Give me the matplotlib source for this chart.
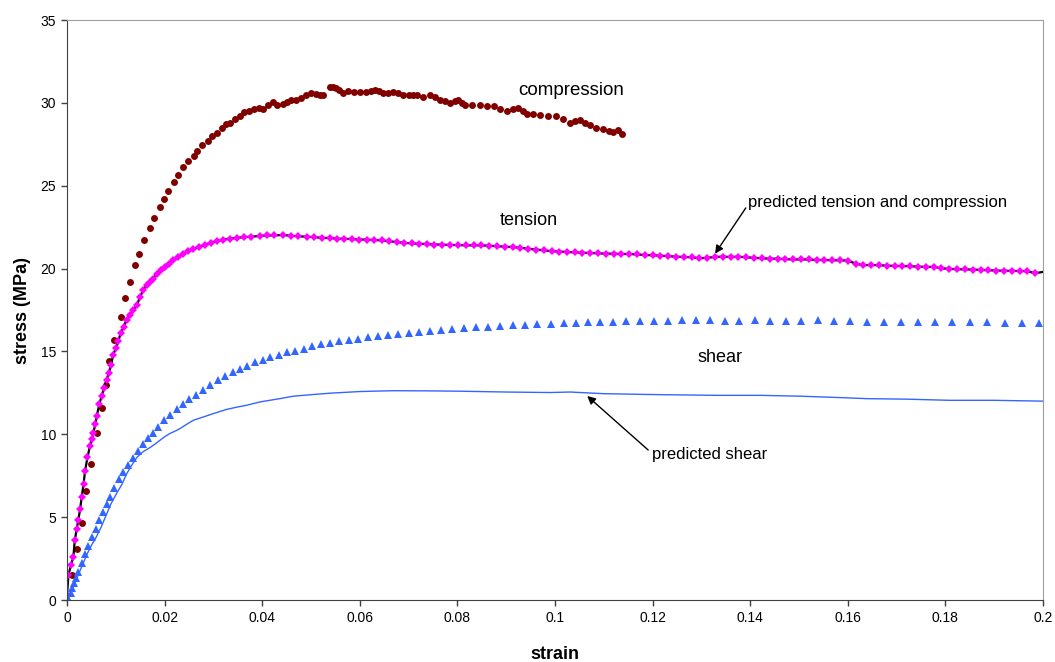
import matplotlib
matplotlib.use("Agg")
import matplotlib.pyplot as plt
from matplotlib.ticker import FuncFormatter

plt.rcParams['font.family'] = ['Liberation Sans', 'DejaVu Sans']

# compression test (dark red dots)
comp_strain = [0.0010, 0.0020, 0.0030, 0.0039, 0.0049, 0.0062, 0.0071, 0.0080, 0.0086, 0.0097,
               0.0110, 0.0119, 0.0129, 0.0139, 0.0148, 0.0158, 0.0170, 0.0178, 0.0190, 0.0199,
               0.0207, 0.0219, 0.0228, 0.0238, 0.0247, 0.0260, 0.0266, 0.0277, 0.0288, 0.0298,
               0.0307, 0.0317, 0.0326, 0.0335, 0.0345, 0.0354, 0.0363, 0.0373, 0.0383, 0.0393,
               0.0402, 0.0412, 0.0422, 0.0431, 0.0442, 0.0451, 0.0460, 0.0470, 0.0480, 0.0490,
               0.0501, 0.0510, 0.0518, 0.0525, 0.0539, 0.0545, 0.0551, 0.0558, 0.0566, 0.0576,
               0.0588, 0.0600, 0.0612, 0.0622, 0.0631, 0.0640, 0.0648, 0.0658, 0.0669, 0.0679,
               0.0689, 0.0700, 0.0710, 0.0717, 0.0730, 0.0744, 0.0754, 0.0764, 0.0775, 0.0785,
               0.0795, 0.0802, 0.0810, 0.0816, 0.0830, 0.0846, 0.0860, 0.0874, 0.0888, 0.0901,
               0.0913, 0.0925, 0.0934, 0.0942, 0.0955, 0.0969, 0.0985, 0.1003, 0.1017, 0.1031,
               0.1041, 0.1051, 0.1062, 0.1072, 0.1085, 0.1099, 0.1110, 0.1119, 0.1130, 0.1137]
comp_stress = [1.5, 3.1, 4.65, 6.6, 8.2, 10.1, 11.6, 12.95, 14.4, 15.7,
               17.05, 18.25, 19.2, 20.2, 20.9, 21.7, 22.45, 23.05, 23.7, 24.2,
               24.7, 25.2, 25.65, 26.1, 26.5, 26.8, 27.1, 27.45, 27.7, 28.0,
               28.2, 28.5, 28.7, 28.8, 29.05, 29.2, 29.45, 29.5, 29.65, 29.7,
               29.6, 29.9, 30.05, 29.85, 29.95, 30.05, 30.15, 30.2, 30.3, 30.45,
               30.6, 30.55, 30.5, 30.5, 30.95, 30.95, 30.9, 30.75, 30.6, 30.7,
               30.65, 30.65, 30.68, 30.72, 30.8, 30.7, 30.6, 30.62, 30.65, 30.58,
               30.5, 30.5, 30.48, 30.45, 30.35, 30.5, 30.35, 30.2, 30.1, 30.0,
               30.1, 30.15, 30.0, 29.9, 29.88, 29.85, 29.82, 29.8, 29.65, 29.5,
               29.6, 29.7, 29.5, 29.35, 29.3, 29.25, 29.22, 29.2, 29.0, 28.8,
               28.9, 28.95, 28.8, 28.65, 28.5, 28.4, 28.3, 28.25, 28.35, 28.1]

# tension test (magenta diamonds)
tens_strain = [0.0000, 0.0003, 0.0008, 0.0013, 0.0016, 0.0020, 0.0023, 0.0027, 0.0030, 0.0034,
               0.0037, 0.0042, 0.0047, 0.0051, 0.0054, 0.0058, 0.0061, 0.0066, 0.0071, 0.0076,
               0.0081, 0.0086, 0.0090, 0.0095, 0.0100, 0.0105, 0.0110, 0.0116, 0.0122, 0.0129,
               0.0136, 0.0143, 0.0150, 0.0156, 0.0163, 0.0170, 0.0177, 0.0184, 0.0192, 0.0200,
               0.0209, 0.0218, 0.0228, 0.0238, 0.0248, 0.0259, 0.0270, 0.0283, 0.0295, 0.0307,
               0.0320, 0.0333, 0.0348, 0.0362, 0.0378, 0.0395, 0.0410, 0.0425, 0.0443, 0.0458,
               0.0474, 0.0491, 0.0506, 0.0522, 0.0538, 0.0553, 0.0568, 0.0584, 0.0599, 0.0614,
               0.0630, 0.0645, 0.0660, 0.0676, 0.0691, 0.0706, 0.0721, 0.0737, 0.0752, 0.0768,
               0.0785, 0.0801, 0.0817, 0.0833, 0.0849, 0.0865, 0.0881, 0.0897, 0.0913, 0.0929,
               0.0945, 0.0961, 0.0977, 0.0993, 0.1008, 0.1024, 0.1040, 0.1056, 0.1072, 0.1088,
               0.1104, 0.1120, 0.1136, 0.1152, 0.1168, 0.1184, 0.1200, 0.1216, 0.1232, 0.1248,
               0.1264, 0.1280, 0.1296, 0.1312, 0.1328, 0.1344, 0.1360, 0.1376, 0.1392, 0.1408,
               0.1424, 0.1440, 0.1456, 0.1472, 0.1488, 0.1504, 0.1520, 0.1536, 0.1552, 0.1568,
               0.1584, 0.1600, 0.1616, 0.1632, 0.1648, 0.1664, 0.1680, 0.1696, 0.1712, 0.1728,
               0.1744, 0.1760, 0.1776, 0.1792, 0.1808, 0.1824, 0.1840, 0.1856, 0.1872, 0.1888,
               0.1904, 0.1920, 0.1936, 0.1952, 0.1968, 0.1984]
tens_stress = [0.3, 1.5, 2.1, 2.6, 3.6, 4.3, 4.8, 5.5, 6.2, 7.0,
               7.8, 8.6, 9.3, 9.7, 10.1, 10.6, 11.1, 11.8, 12.3, 12.8,
               13.3, 13.7, 14.2, 14.8, 15.2, 15.6, 16.1, 16.5, 16.9, 17.2,
               17.5, 17.8, 18.3, 18.7, 19.0, 19.2, 19.4, 19.7, 19.9, 20.1,
               20.3, 20.5, 20.7, 20.9, 21.05, 21.2, 21.3, 21.45, 21.55, 21.65,
               21.75, 21.8, 21.85, 21.9, 21.92, 21.97, 22.0, 22.0, 22.03, 21.98,
               21.95, 21.92, 21.9, 21.85, 21.85, 21.8, 21.8, 21.78, 21.75, 21.75,
               21.72, 21.7, 21.65, 21.6, 21.55, 21.52, 21.5, 21.48, 21.45, 21.45,
               21.42, 21.42, 21.4, 21.4, 21.4, 21.38, 21.35, 21.32, 21.3, 21.25,
               21.2, 21.15, 21.1, 21.05, 21.03, 21.0, 20.98, 20.96, 20.94, 20.92,
               20.9, 20.9, 20.88, 20.88, 20.85, 20.82, 20.8, 20.78, 20.75, 20.72,
               20.7, 20.68, 20.62, 20.65, 20.7, 20.72, 20.7, 20.72, 20.68, 20.65,
               20.62, 20.6, 20.6, 20.57, 20.55, 20.55, 20.55, 20.52, 20.52, 20.5,
               20.5, 20.48, 20.3, 20.2, 20.22, 20.2, 20.18, 20.16, 20.15, 20.14,
               20.12, 20.1, 20.1, 20.02, 19.98, 19.96, 19.95, 19.94, 19.92, 19.9,
               19.88, 19.87, 19.86, 19.85, 19.84, 19.72]

# predicted tension and compression (black line)
pred_tc_strain = tens_strain + [0.2000]
pred_tc_stress = tens_stress + [19.8]

# shear test (blue triangles)
shear_strain = [0.0005, 0.0008, 0.0010, 0.0014, 0.0018, 0.0023, 0.0030, 0.0037, 0.0044, 0.0051,
                0.0059, 0.0066, 0.0073, 0.0081, 0.0088, 0.0097, 0.0107, 0.0115, 0.0126, 0.0135,
                0.0145, 0.0155, 0.0165, 0.0176, 0.0187, 0.0199, 0.0211, 0.0225, 0.0237, 0.0251,
                0.0264, 0.0279, 0.0294, 0.0309, 0.0324, 0.0340, 0.0355, 0.0369, 0.0385, 0.0401,
                0.0417, 0.0434, 0.0450, 0.0468, 0.0485, 0.0503, 0.0521, 0.0539, 0.0558, 0.0577,
                0.0597, 0.0617, 0.0637, 0.0658, 0.0679, 0.0700, 0.0722, 0.0744, 0.0766, 0.0789,
                0.0814, 0.0838, 0.0863, 0.0887, 0.0913, 0.0939, 0.0964, 0.0991, 0.1018, 0.1044,
                0.1068, 0.1093, 0.1119, 0.1146, 0.1174, 0.1203, 0.1232, 0.1260, 0.1289, 0.1318,
                0.1349, 0.1378, 0.1409, 0.1441, 0.1473, 0.1505, 0.1538, 0.1572, 0.1605, 0.1640,
                0.1674, 0.1709, 0.1743, 0.1778, 0.1814, 0.1850, 0.1886, 0.1922, 0.1957, 0.1992]
shear_stress = [0.0, 0.4, 0.7, 1.0, 1.3, 1.7, 2.25, 2.8, 3.25, 3.8,
                4.3, 4.8, 5.3, 5.8, 6.2, 6.75, 7.3, 7.75, 8.15, 8.55,
                9.0, 9.4, 9.75, 10.1, 10.45, 10.85, 11.15, 11.5, 11.8, 12.1,
                12.4, 12.7, 13.0, 13.25, 13.5, 13.75, 13.95, 14.15, 14.35, 14.5,
                14.65, 14.8, 14.95, 15.05, 15.15, 15.3, 15.42, 15.5, 15.6, 15.7,
                15.78, 15.85, 15.92, 16.0, 16.05, 16.1, 16.15, 16.22, 16.28, 16.33,
                16.4, 16.45, 16.49, 16.54, 16.59, 16.62, 16.64, 16.66, 16.7, 16.71,
                16.75, 16.77, 16.8, 16.82, 16.83, 16.85, 16.86, 16.87, 16.88, 16.87,
                16.86, 16.86, 16.87, 16.86, 16.86, 16.86, 16.87, 16.82, 16.81, 16.8,
                16.79, 16.78, 16.78, 16.78, 16.77, 16.76, 16.75, 16.74, 16.74, 16.72]

# predicted shear (thin blue line)
pred_sh_strain = [0.0000, 0.0010, 0.0020, 0.0030, 0.0040, 0.0050, 0.0060, 0.0070, 0.0080, 0.0090,
                  0.0102, 0.0112, 0.0122, 0.0132, 0.0143, 0.0156, 0.0170, 0.0180, 0.0191, 0.0200,
                  0.0211, 0.0222, 0.0232, 0.0245, 0.0259, 0.0280, 0.0300, 0.0327, 0.0350, 0.0368,
                  0.0395, 0.0436, 0.0464, 0.0505, 0.0539, 0.0600, 0.0669, 0.0737, 0.0805, 0.0900,
                  0.0990, 0.1031, 0.1100, 0.1195, 0.1331, 0.1420, 0.1502, 0.1580, 0.1639, 0.1720,
                  0.1809, 0.1900, 0.2000]
pred_sh_stress = [0.0, 0.6, 1.3, 2.0, 2.7, 3.3, 3.8, 4.4, 5.1, 5.8,
                  6.45, 6.95, 7.6, 8.1, 8.6, 8.95, 9.2, 9.4, 9.65, 9.85,
                  10.05, 10.2, 10.35, 10.6, 10.85, 11.05, 11.25, 11.5, 11.65, 11.75,
                  11.95, 12.15, 12.3, 12.4, 12.48, 12.58, 12.63, 12.62, 12.6, 12.55,
                  12.52, 12.55, 12.45, 12.4, 12.35, 12.35, 12.3, 12.22, 12.15, 12.12,
                  12.05, 12.05, 12.0]

fig = plt.figure(figsize=(10.55, 6.62), dpi=100)
ax = fig.add_axes([67 / 1055, 62 / 662, 976 / 1055, 580 / 662])

blue = '#3366ff'
ax.plot(comp_strain, comp_stress, 'o', color='#800000', markersize=5, markeredgewidth=0)
ax.plot(pred_tc_strain, pred_tc_stress, '-', color='black', linewidth=1.6)
ax.plot(tens_strain, tens_stress, 'D', color='#ff00ff', markersize=3.6, markeredgewidth=0)
ax.plot(shear_strain, shear_stress, '^', color=blue, markersize=5.5, markeredgewidth=0)
ax.plot(pred_sh_strain, pred_sh_stress, '-', color=blue, linewidth=1.0)

ax.set_xlim(0, 0.2)
ax.set_ylim(0, 35)
ax.set_xticks([i * 0.02 for i in range(11)])
ax.set_yticks(range(0, 36, 5))
ax.xaxis.set_major_formatter(FuncFormatter(lambda v, p: '%g' % round(v, 2)))
ax.tick_params(direction='out', length=4, width=1, labelsize=10, color='#404040', pad=4)

ax.spines['left'].set_color('#404040')
ax.spines['bottom'].set_color('#404040')
ax.spines['top'].set_color('#a0a0a0')
ax.spines['right'].set_color('#a0a0a0')

ax.set_xlabel('strain', fontsize=13, fontweight='bold', labelpad=15)
ax.set_ylabel('stress (MPa)', fontsize=13, fontweight='bold', labelpad=7)

ax.text(0.0924, 30.72, 'compression', fontsize=13.5, va='center')
ax.text(0.0887, 22.93, 'tension', fontsize=13, va='center')
ax.text(0.1291, 14.66, 'shear', fontsize=13, va='center')

arrow = dict(arrowstyle='-|>', color='black', lw=1, shrinkA=0, shrinkB=0, mutation_scale=12)
ax.text(0.1395, 24.0, 'predicted tension and compression', fontsize=12, va='center')
ax.annotate('', xy=(0.1328, 20.9), xytext=(0.1391, 23.66), arrowprops=arrow)
ax.text(0.1199, 8.81, 'predicted shear', fontsize=12, va='center')
ax.annotate('', xy=(0.1066, 12.31), xytext=(0.1191, 9.05), arrowprops=arrow)

plt.savefig('out.png', dpi=100)
